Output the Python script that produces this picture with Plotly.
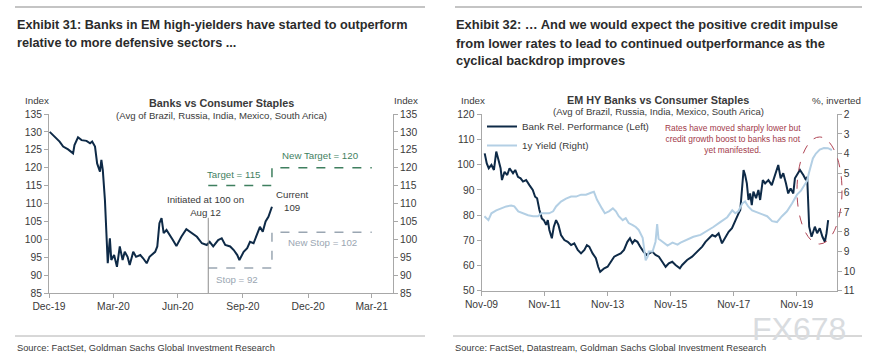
import plotly.graph_objects as go

# ---------------- Data: Exhibit 31 ----------------
left_dates = ["2020-01-01","2020-01-08","2020-01-15","2020-01-20","2020-01-27","2020-02-03","2020-02-05","2020-02-10",
              "2020-02-15","2020-02-22","2020-02-27","2020-03-01","2020-03-05","2020-03-08","2020-03-12","2020-03-14",
              "2020-03-16","2020-03-19","2020-03-21","2020-03-23","2020-03-26","2020-03-28","2020-04-01","2020-04-05",
              "2020-04-09","2020-04-13","2020-04-16","2020-04-20","2020-04-23","2020-04-28","2020-05-02","2020-05-08",
              "2020-05-12","2020-05-17","2020-05-21","2020-05-29","2020-06-01","2020-06-04","2020-06-07","2020-06-10",
              "2020-06-14","2020-06-19","2020-06-23","2020-06-28","2020-07-05","2020-07-12","2020-07-20","2020-07-27",
              "2020-08-03","2020-08-10","2020-08-14","2020-08-19","2020-08-26","2020-08-31","2020-09-05","2020-09-12",
              "2020-09-17","2020-09-22","2020-09-25","2020-10-01","2020-10-06","2020-10-10","2020-10-15","2020-10-20",
              "2020-10-24","2020-10-28","2020-11-01","2020-11-05","2020-11-10"]
left_values = [130, 128.7, 127.3, 125.9, 125.1, 124, 126.3, 128.5, 127.7, 127.5, 126.8,
               127.3, 125.9, 121.2, 118.9, 122.2, 119.4, 111, 100.7, 93.3, 100.3, 94.2,
               95.6, 92.3, 98, 94.2, 96.5, 95.1, 92.8, 96.5,
               95.1, 95.6, 94.7, 93.3, 95.1, 96.5,
               98, 104.5, 105.9, 101.7, 102.6, 101.2, 99.8, 98.1,
               100.7, 102.8, 101.7, 100.7,
               98.9, 98.4, 99.3, 98, 99.8, 100.3,
               98.4, 98, 97, 95.6, 94.2,
               96.5, 97.5, 99.3, 98.9, 101.2, 103.5, 102.1,
               105, 106.3, 109.1]

init_date = "2020-08-12"
step_date = "2020-11-10"
end_date = "2021-03-31"
target_old, target_new = 115, 120
stop_old, stop_new = 92, 102
init_line_top = 106

left_tickvals = ["2019-12-31", "2020-03-31", "2020-06-30", "2020-09-30", "2020-12-31", "2021-03-31"]
left_ticktext = ["Dec-19", "Mar-20", "Jun-20", "Sep-20", "Dec-20", "Mar-21"]

# ---------------- Data: Exhibit 32 ----------------
bank_dates = ["2009-12-08","2010-01-01","2010-01-24","2010-02-24","2010-03-25","2010-04-21","2010-05-17","2010-06-10",
              "2010-06-26","2010-07-26","2010-08-26","2010-09-22","2010-11-01","2010-11-27","2010-12-28","2011-01-28",
              "2011-02-25","2011-04-02","2011-05-10","2011-06-18","2011-07-15","2011-08-07","2011-09-03","2011-10-01",
              "2011-10-24","2011-11-20","2011-12-09","2011-12-27","2012-01-25","2012-02-17","2012-03-14","2012-04-10",
              "2012-05-10","2012-06-18","2012-07-27","2012-09-04","2012-10-11","2012-11-20","2012-12-28","2013-02-05",
              "2013-03-06","2013-04-02","2013-05-11","2013-06-18","2013-07-15","2013-08-07","2013-09-23","2013-11-01",
              "2013-12-09","2014-01-16","2014-02-25","2014-04-02","2014-05-10","2014-06-18","2014-07-18","2014-08-15",
              "2014-09-11","2014-10-12","2014-11-12","2014-12-21","2015-01-28","2015-02-24","2015-04-03","2015-05-10",
              "2015-06-18","2015-07-27","2015-09-04","2015-10-11","2015-11-20","2015-12-28","2016-02-16","2016-03-14",
              "2016-05-10","2016-07-07","2016-09-04","2016-11-01","2016-12-09","2017-01-16","2017-02-25","2017-04-02",
              "2017-05-10","2017-06-18","2017-07-26","2017-09-03","2017-10-12","2017-11-19","2017-12-27","2018-01-16",
              "2018-02-05","2018-02-23","2018-03-13","2018-04-02","2018-04-21","2018-05-10","2018-05-29","2018-06-17",
              "2018-07-18","2018-08-14","2018-09-03","2018-10-04","2018-10-31","2018-12-08","2019-01-16","2019-02-23",
              "2019-04-01","2019-04-29","2019-05-29","2019-06-29","2019-07-25","2019-08-22","2019-09-22","2019-10-11",
              "2019-11-07","2019-12-08","2020-01-16","2020-02-16","2020-03-01","2020-03-12","2020-03-24","2020-04-21",
              "2020-05-29","2020-06-24","2020-07-25","2020-08-25","2020-09-22","2020-10-11","2020-10-30"]
bank_values = [104.5, 100.5, 98.6, 99.9, 97.9, 105.2, 101.9, 98.6,
               93.9, 97.2, 95.9, 98.6, 96.6, 97.9, 95.2, 94.6,
               93.3, 93.9, 91.9, 90, 87.3, 86.7, 82, 78.7,
               78, 76.1, 78, 74.1, 70.8, 75.4, 78, 76.1,
               72.1, 70.1, 69.4, 68.1, 68.8, 66.2, 64.8, 66.2,
               68.1, 67.5, 64.8, 62.9, 59.5, 57.5, 58.9, 59.5,
               61.5, 63.5, 64.2, 64.8, 66.2, 69.4, 70.8, 68.8,
               70.1, 69.4, 67.5, 65.5, 64.2, 64.8, 65.5, 64.2,
               63.5, 61.5, 59.5, 60.9, 61.5, 60.2, 58.9, 60.2,
               62.2, 63.5, 65.5, 67.5, 69.4, 70.8, 72.1, 71.5,
               72.8, 68.8, 70.8, 73.4, 74.8, 78, 80.7, 82,
               90, 97.9, 95.9, 92.6, 86, 88.6, 84, 89.3,
               86.7, 90, 86, 93.9, 92.6, 93.9, 91.9, 95.9,
               99.9, 94.6, 96.6, 92.6, 88.6, 90.6, 88.6, 94.6,
               95.9, 97.9, 95.9, 93.9, 95.2, 87.3, 75.4, 71.4,
               75.4, 72.8, 74.8, 71.4, 69.4, 72.8, 78]

yield_dates = ["2009-12-05","2010-01-20","2010-02-24","2010-04-21","2010-06-18","2010-08-15","2010-10-12","2010-11-16",
               "2011-01-01","2011-02-28","2011-04-25","2011-06-22","2011-08-19","2011-09-23","2011-11-20","2011-12-24",
               "2012-02-09","2012-03-14","2012-05-10","2012-07-07","2012-09-04","2012-11-01","2012-12-28","2013-02-24",
               "2013-04-22","2013-05-26","2013-06-30","2013-07-23","2013-08-27","2013-09-30","2013-11-16","2014-01-01",
               "2014-02-05","2014-03-10","2014-04-25","2014-05-30","2014-07-03","2014-08-19","2014-09-23","2014-10-27",
               "2014-12-12","2014-12-29","2015-01-16","2015-02-09","2015-02-20","2015-04-06","2015-05-10","2015-05-29",
               "2015-06-14","2015-07-30","2015-09-26","2015-11-23","2016-01-20","2016-02-24","2016-05-14","2016-07-22",
               "2016-10-12","2017-01-01","2017-03-10","2017-05-29","2017-08-18","2017-10-15","2017-11-19","2017-12-24",
               "2018-02-09","2018-03-13","2018-04-17","2018-06-02","2018-07-30","2018-09-26","2018-11-23","2019-01-20",
               "2019-03-17","2019-05-14","2019-07-11","2019-09-07","2019-11-04","2019-12-20","2020-02-05","2020-02-28",
               "2020-03-21","2020-04-14","2020-05-06","2020-06-10","2020-07-25","2020-09-11","2020-10-27","2020-12-12"]
yield_values = [7.2, 7.4, 7.05, 6.9, 6.8, 6.7, 6.65, 6.7,
                6.95, 7.05, 7.15, 7.2, 7.2, 7.05, 7.05, 7.05,
                6.95, 6.7, 6.45, 6.3, 6.2, 6.2, 6.1, 6.1,
                6.0, 5.95, 6.35, 6.55, 6.8, 7.05, 6.95, 6.8,
                6.95, 7.2, 7.4, 7.3, 7.55, 7.65, 7.75, 7.9,
                8.3, 8.85, 9.45, 9.25, 9.0, 9.0, 8.5, 7.6,
                8.35, 8.5, 8.7, 8.55, 8.65, 8.55, 8.4, 8.25,
                8.15, 7.95, 7.75, 7.5, 7.25, 6.9, 7.05, 6.95,
                6.55, 6.45, 6.7, 6.9, 7.0, 7.1, 7.2, 7.45,
                7.5, 7.2, 6.95, 6.55, 6.1, 5.9, 5.6, 5.4,
                5.0, 4.6, 4.25, 4.0, 3.8, 3.72, 3.73, 3.82]

right_tickvals = ["2009-11-01", "2011-11-01", "2013-11-01", "2015-11-01", "2017-11-01", "2019-11-01"]
right_ticktext = ["Nov-09", "Nov-11", "Nov-13", "Nov-15", "Nov-17", "Nov-19"]

# ---------------- Styles ----------------
W, H = 878, 364
NAVY = "#0e2a47"
LIGHTBLUE = "#b3cfe4"
GREEN = "#3f7f5f"
STOPC = "#9aa6b2"
TXT = "#3a3a3a"
AXC = "#a8a8a8"
FONT = "Liberation Sans, Arial, sans-serif"

def px(x):
    return x / W

def py(y):
    return 1 - y / H

fig = go.Figure()

# Left chart traces
fig.add_trace(go.Scatter(x=left_dates, y=left_values, mode="lines", line=dict(color=NAVY, width=2),
                         xaxis="x", yaxis="y", showlegend=False, hoverinfo="skip"))
fig.add_trace(go.Scatter(x=[init_date, step_date, step_date, end_date],
                         y=[target_old, target_old, target_new, target_new], mode="lines",
                         line=dict(color=GREEN, width=1.5, dash="dash"), xaxis="x", yaxis="y", showlegend=False))
fig.add_trace(go.Scatter(x=[init_date, step_date, step_date, end_date],
                         y=[stop_old, stop_old, stop_new, stop_new], mode="lines",
                         line=dict(color=STOPC, width=1.5, dash="dash"), xaxis="x", yaxis="y", showlegend=False))
fig.add_trace(go.Scatter(x=[init_date, init_date], y=[85, init_line_top], mode="lines",
                         line=dict(color="#8c8c8c", width=1), xaxis="x", yaxis="y", showlegend=False))
fig.add_trace(go.Scatter(x=[left_dates[0]], y=[left_values[0]], mode="markers", marker=dict(opacity=0),
                         xaxis="x", yaxis="y2", showlegend=False, hoverinfo="skip"))

# Right chart traces
fig.add_trace(go.Scatter(x=yield_dates, y=yield_values, mode="lines", name="1y Yield (Right)",
                         line=dict(color=LIGHTBLUE, width=2), xaxis="x3", yaxis="y4"))
fig.add_trace(go.Scatter(x=bank_dates, y=bank_values, mode="lines", name="Bank Rel. Performance (Left)",
                         line=dict(color=NAVY, width=2), xaxis="x3", yaxis="y3"))

axis_common = dict(showline=True, linecolor=AXC, linewidth=1, ticks="outside", ticklen=4, tickcolor=AXC,
                   showgrid=False, zeroline=False, automargin=False,
                   tickfont=dict(family=FONT, size=10.3, color=TXT))

fig.update_layout(
    width=W, height=H, margin=dict(l=0, r=0, t=0, b=0, pad=0, autoexpand=False),
    paper_bgcolor="white", plot_bgcolor="white",
    xaxis=dict(domain=[px(49), px(393)], anchor="y", type="date", range=["2019-12-31", "2021-04-30"],
               tickmode="array", tickvals=left_tickvals, ticktext=left_ticktext, **axis_common),
    yaxis=dict(domain=[py(293), py(114)], anchor="x", range=[85, 135], dtick=5, tick0=85, **axis_common),
    yaxis2=dict(overlaying="y", anchor="x", side="right", range=[85, 135], dtick=5, tick0=85, **axis_common),
    xaxis3=dict(domain=[px(481.5), px(836.7)], anchor="y3", type="date", range=["2009-11-01", "2021-02-06"],
                tickmode="array", tickvals=right_tickvals, ticktext=right_ticktext, **axis_common),
    yaxis3=dict(domain=[py(290.7), py(114.3)], anchor="x3", range=[50, 120], dtick=10, tick0=50, **axis_common),
    yaxis4=dict(overlaying="y3", anchor="x3", side="right", range=[11, 2], dtick=1, tick0=2, **axis_common),
    legend=dict(x=px(482), y=py(112), xanchor="left", yanchor="top", bgcolor="rgba(0,0,0,0)",
                font=dict(family=FONT, size=9.8, color=TXT), traceorder="reversed", tracegroupgap=0,
                itemwidth=30),
)

ann = []
def T(x, y, text, size=10, color=TXT, xanchor="center", yanchor="middle", align="center"):
    ann.append(dict(x=px(x), y=py(y), xref="paper", yref="paper", text=text, showarrow=False,
                    xanchor=xanchor, yanchor=yanchor, align=align,
                    font=dict(family=FONT, size=size, color=color)))

# Exhibit titles (one annotation per line)
TT = "#2b2b2b"
T(15, 25, "<b>Exhibit 31: Banks in EM high-yielders have started to outperform</b>", size=12.7, color=TT, xanchor="left")
T(15, 43, "<b>relative to more defensive sectors ...</b>", size=12.7, color=TT, xanchor="left")
T(454, 25, "<b>Exhibit 32: … And we would expect the positive credit impulse</b>", size=12.9, color=TT, xanchor="left")
T(454, 43, "<b>from lower rates to lead to continued outperformance as the</b>", size=12.9, color=TT, xanchor="left")
T(454, 61, "<b>cyclical backdrop improves</b>", size=12.9, color=TT, xanchor="left")

# Source lines
T(15, 348, "Source: FactSet, Goldman Sachs Global Investment Research", size=9.3, color=TXT, xanchor="left")
T(453, 348, "Source: FactSet, Datastream, Goldman Sachs Global Investment Research", size=9.3, color=TXT,
  xanchor="left")

# Left chart texts
T(37, 100, "Index", size=9.8)
T(406, 100, "Index", size=9.8)
T(221, 103, "<b>Banks vs Consumer Staples</b>", size=10.8)
T(221, 115, "(Avg of Brazil, Russia, India, Mexico, South Arica)", size=9.6)
T(320, 155, "New Target = 120", size=9.7, color=GREEN)
T(233, 174, "Target = 115", size=9.7, color=GREEN)
T(292, 201, "Current<br>109", size=9.7)
T(205, 206, "Initiated at 100 on<br>Aug 12", size=9.7)
T(322, 242, "New Stop = 102", size=9.7, color=STOPC)
T(237, 279, "Stop = 92", size=9.7, color=STOPC)

# Right chart texts
T(473, 100, "Index", size=9.8)
T(863, 100, "%, inverted", size=9.8, xanchor="right")
T(658, 100, "<b>EM HY Banks vs Consumer Staples</b>", size=10.8)
T(658, 111, "(Avg of Brazil, Russia, India, Mexico, South Arica)", size=9.6)
T(733, 139, "Rates have moved sharply lower but<br>credit growth boost to banks has not<br>yet manifested.",
  size=8.4, color="#a23a4a")

# Watermark
T(799, 329, "FX678", size=32, color="#d9dcdf")

fig.update_layout(annotations=ann)

shapes = [
    dict(type="line", xref="paper", yref="paper", x0=px(15), x1=px(425), y0=py(7), y1=py(7),
         line=dict(color="#b0b0b0", width=1.5)),
    dict(type="line", xref="paper", yref="paper", x0=px(455), x1=px(862), y0=py(7), y1=py(7),
         line=dict(color="#b0b0b0", width=1.5)),
    dict(type="line", xref="paper", yref="paper", x0=px(15), x1=px(425), y0=py(336), y1=py(336),
         line=dict(color="#b0b0b0", width=1)),
    dict(type="line", xref="paper", yref="paper", x0=px(453), x1=px(862), y0=py(336), y1=py(336),
         line=dict(color="#b0b0b0", width=1)),
    dict(type="circle", xref="paper", yref="paper", x0=px(797), x1=px(842), y0=py(244), y1=py(137),
         line=dict(color="#b04555", width=1, dash="dash")),
]
fig.update_layout(shapes=shapes)

fig.write_html("out.html", config={"displayModeBar": False},
               post_script="document.body.style.margin='0';document.body.style.overflow='hidden';")
